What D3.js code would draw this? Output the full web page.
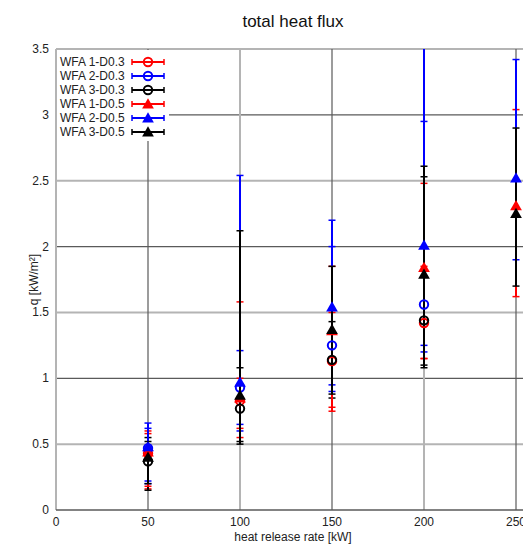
<!DOCTYPE html>
<html><head><meta charset="utf-8">
<script src="https://cdn.jsdelivr.net/npm/d3@7"></script>
<style>body{margin:0;background:#fff;} text{font-family:"Liberation Sans",Arial,sans-serif;}</style>
</head><body>
<svg id="c" width="523" height="544"></svg>
<script>
const categories = [50, 100, 150, 200, 250];
const seriesNames = ["WFA 1-D0.3","WFA 2-D0.3","WFA 3-D0.3","WFA 1-D0.5","WFA 2-D0.5","WFA 3-D0.5"];
const seriesColors = ["#ff0000","#0000ff","#000000","#ff0000","#0000ff","#000000"];
const seriesMarkers = ["circle","circle","circle","triangle","triangle","triangle"];
// mean values
const wfa1D03 = [0.43, 0.83, 1.13, 1.42, null];
const wfa2D03 = [0.47, 0.93, 1.25, 1.56, null];
const wfa3D03 = [0.37, 0.77, 1.14, 1.44, null];
const wfa1D05 = [0.44, 0.85, 1.36, 1.84, 2.31];
const wfa2D05 = [0.48, 0.97, 1.54, 2.01, 2.52];
const wfa3D05 = [0.40, 0.87, 1.37, 1.79, 2.25];
// error bar lower / upper bounds
const wfa1D03Lo = [0.16, 0.62, 0.75, 1.15, null];
const wfa1D03Hi = [0.60, 1.00, 1.50, 1.85, null];
const wfa2D03Lo = [0.20, 0.65, 0.95, 1.25, null];
const wfa2D03Hi = [0.66, 1.21, 2.00, 2.95, null];
const wfa3D03Lo = [0.15, 0.50, 0.85, 1.08, null];
const wfa3D03Hi = [0.55, 1.08, 1.43, 2.53, null];
const wfa1D05Lo = [0.18, 0.55, 0.78, 1.15, 1.62];
const wfa1D05Hi = [0.58, 1.58, 1.85, 2.48, 3.04];
const wfa2D05Lo = [0.22, 0.60, 0.90, 1.20, 1.90];
const wfa2D05Hi = [0.62, 2.54, 2.20, 3.60, 3.42];
const wfa3D05Lo = [0.20, 0.52, 0.88, 1.10, 1.70];
const wfa3D05Hi = [0.52, 2.12, 1.85, 2.61, 2.90];
const xTicks = [0, 50, 100, 150, 200, 250, 300];
const yTicks = [0, 0.5, 1, 1.5, 2, 2.5, 3, 3.5];

const means = [wfa1D03, wfa2D03, wfa3D03, wfa1D05, wfa2D05, wfa3D05];
const los = [wfa1D03Lo, wfa2D03Lo, wfa3D03Lo, wfa1D05Lo, wfa2D05Lo, wfa3D05Lo];
const his = [wfa1D03Hi, wfa2D03Hi, wfa3D03Hi, wfa1D05Hi, wfa2D05Hi, wfa3D05Hi];

const svg = d3.select("#c");
const L = 56, T = 49, B = 510;
const x = d3.scaleLinear().domain([0, 250]).range([L, 516]);
const y = d3.scaleLinear().domain([0, 3.5]).range([B, T]);
const R = x(300);
const dark = "#5a5a5a", light = "#b4b4b4";
const isMajor = v => Math.abs((v / 50) % 2 - 1) < 1e-6; // 50,150,250
const isMajorY = v => Math.abs(v % 1) < 1e-6 && v > 0;

// grid
const g = svg.append("g");
g.selectAll("line.h").data(yTicks.filter(v => v > 0)).enter().append("line")
  .attr("x1", L).attr("x2", R).attr("y1", d => y(d)).attr("y2", d => y(d))
  .attr("stroke", d => isMajorY(d) ? dark : light).attr("stroke-width", d => isMajorY(d) ? 1.2 : 2);
g.selectAll("line.v").data(xTicks.filter(v => v > 0)).enter().append("line")
  .attr("x1", d => x(d)).attr("x2", d => x(d)).attr("y1", T).attr("y2", B)
  .attr("stroke", d => isMajor(d) ? dark : light).attr("stroke-width", d => isMajor(d) ? 1.2 : 2);
// axes lines
svg.append("line").attr("x1", L).attr("x2", L).attr("y1", T).attr("y2", B).attr("stroke", light).attr("stroke-width", 2);
svg.append("line").attr("x1", L).attr("x2", R).attr("y1", B).attr("y2", B).attr("stroke", dark).attr("stroke-width", 1.5);

// tick labels
svg.selectAll("text.yt").data(yTicks).enter().append("text")
  .attr("x", 49).attr("y", d => y(d) + 4).attr("text-anchor", "end")
  .attr("font-size", 12).attr("fill", "#222").text(d => d);
svg.selectAll("text.xt").data(xTicks).enter().append("text")
  .attr("x", d => x(d)).attr("y", 526).attr("text-anchor", "middle")
  .attr("font-size", 12).attr("fill", "#222").text(d => d);

// title and labels
svg.append("text").attr("x", 293).attr("y", 27).attr("text-anchor", "middle").attr("font-size", 17).attr("fill", "#111").text("total heat flux");
svg.append("text").attr("x", 293).attr("y", 541).attr("text-anchor", "middle").attr("font-size", 12).attr("fill", "#222").text("heat release rate [kW]");
svg.append("text").attr("transform", `translate(38,${(T + B) / 2}) rotate(-90)`).attr("text-anchor", "middle")
  .attr("font-size", 12).attr("fill", "#222").text("q [kW/m²]");

// data
svg.append("clipPath").attr("id", "clip").append("rect").attr("x", L).attr("y", T).attr("width", R - L).attr("height", B - T);
const dg = svg.append("g").attr("clip-path", "url(#clip)");
const tri = d3.symbol().type(d3.symbolTriangle).size(60);

function marker(sel, type, color, cx, cy) {
  if (type === "circle") {
    sel.append("circle").attr("cx", cx).attr("cy", cy).attr("r", 4.2)
      .attr("fill", "none").attr("stroke", color).attr("stroke-width", 2);
  } else {
    sel.append("path").attr("d", tri()).attr("transform", `translate(${cx},${cy + 1})`).attr("fill", color);
  }
}

seriesNames.forEach((name, s) => {
  const col = seriesColors[s];
  const sg = dg.append("g");
  categories.forEach((c, i) => {
    if (means[s][i] == null) return;
    const cx = x(c);
    sg.append("line").attr("x1", cx).attr("x2", cx).attr("y1", y(los[s][i])).attr("y2", y(his[s][i]))
      .attr("stroke", col).attr("stroke-width", 2);
    [los[s][i], his[s][i]].forEach(v => {
      sg.append("line").attr("x1", cx - 3.5).attr("x2", cx + 3.5).attr("y1", y(v)).attr("y2", y(v))
        .attr("stroke", col).attr("stroke-width", 1.5);
    });
  });
});
seriesNames.forEach((name, s) => {
  categories.forEach((c, i) => {
    if (means[s][i] == null) return;
    marker(dg, seriesMarkers[s], seriesColors[s], x(c), y(means[s][i]));
  });
});

// legend
const lg = svg.append("g");
lg.append("rect").attr("x", 57).attr("y", 50).attr("width", 112).attr("height", 91).attr("fill", "#fff");
seriesNames.forEach((name, s) => {
  const ly = 62 + s * 14;
  lg.append("text").attr("x", 60).attr("y", ly + 4).attr("font-size", 12).attr("fill", "#222").text(name);
  const col = seriesColors[s];
  lg.append("line").attr("x1", 132).attr("x2", 164).attr("y1", ly).attr("y2", ly).attr("stroke", col).attr("stroke-width", 2);
  [132, 164].forEach(px => lg.append("line").attr("x1", px).attr("x2", px).attr("y1", ly - 3).attr("y2", ly + 3).attr("stroke", col).attr("stroke-width", 1.5));
  marker(lg, seriesMarkers[s], col, 148, ly);
});
</script>
</body></html>
